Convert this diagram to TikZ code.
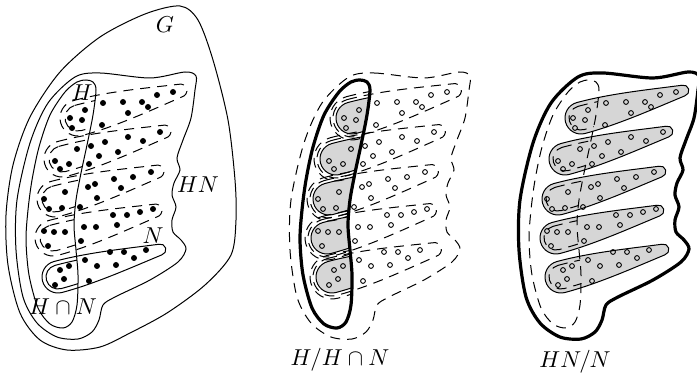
\documentclass[tikz,border=0pt]{standalone}
\usetikzlibrary{calc}
\definecolor{CosetClr}{gray}{0.84}

\tikzset{
  thinln/.style={line width=0.5pt},
  thickln/.style={line width=1.6pt},
  dashln/.style={line width=0.5pt,dash pattern=on 5pt off 3.5pt},
  eltfill/.style={fill=black},
  eltopen/.style={draw=black,line width=0.45pt},
  lbl/.style={scale=1.15},
}

\def\Gpath{plot[smooth cycle] coordinates {(180,6) (198,20) (213,60) (228,120) (235,180) (236,220) (231,255) (205,285) (167,313) (130,333) (100,347) (67,350) (40,340) (20,313) (8,265) (6,215) (13,165) (30,117) (60,72) (100,37) (145,14)}}
\def\HNpath{plot[smooth cycle] coordinates {(75,77) (100,73) (150,78) (185,72) (196,76) (195,90) (191,118) (183,140) (177,158) (180,170) (174,183) (172,195) (176,207) (172,220) (173,232) (181,240) (186,249) (178,262) (150,280) (115,297) (103,305) (99,320) (92,332) (78,339) (57,337) (37,323) (23,297) (16,250) (17,200) (30,143) (48,103)}}
\def\Hpath{plot[smooth cycle] coordinates {(86,80) (93,82) (96,90) (93,115) (87,145) (81,173) (76,200) (74,225) (76,250) (78,275) (77,305) (72,322) (63,328) (50,324) (38,308) (29,275) (26,240) (28,210) (32,180) (39,147) (50,115) (65,92) (77,82)}}

\def\RowsUp{(78,118),(62,159),(55,199),(53,238)}
\def\RowsAll{(78,118),(62,159),(55,199),(53,238),(58,277)}
\def\EltList{(85,110),(103,103),(123,102),(142,102),(148,107),(157,95),(173,92),(128,113),(70,118),(82,120),(72,128),(102,125),
(77,149),(91,146),(105,142),(128,137),(143,141),(160,132),(55,161),(69,164),(60,169),(89,164),(99,156),(118,152),
(65,192),(88,187),(95,184),(114,179),(133,177),(151,172),(44,199),(49,209),(62,208),(80,207),(97,198),(121,188),
(44,231),(54,232),(65,232),(48,246),(84,227),(96,227),(81,241),(117,225),(113,215),(127,215),(140,212),(153,209),
(60,270),(69,266),(64,279),(55,285),(85,260),(97,266),(89,281),(110,252),(124,252),(134,258),(146,250),(116,265)}

% one coset of N: #1 style, #2 centre of its round end, #3 extra width
\newcommand{\CosetShape}[3]{%
  \pgfmathsetmacro\CosR{16+#3}%
  \pgfmathsetmacro\CosT{5.5+#3/2}%
  \pgfmathsetmacro\CosM{10+#3*0.75}%
  \path[#1,shift={#2},rotate=15] (0,-\CosR) .. controls (35,-\CosR) and (72,-\CosM) .. (106,-\CosT)
    arc[start angle=-90,end angle=90,radius=\CosT]
    .. controls (72,\CosM) and (35,\CosR) .. (0,\CosR)
    arc[start angle=90,end angle=270,radius=\CosR] -- cycle;}

\begin{document}
\begin{tikzpicture}[x=0.5pt,y=-0.5pt]
\useasboundingbox (0,0) rectangle (697,374);

% G, HN, H
\draw[thinln] \Gpath;
\draw[thinln] \HNpath;
\draw[thinln] \Hpath;

\foreach \c in \RowsUp {\CosetShape{draw,dashln}{\c}{2}}
\CosetShape{draw,thinln}{(58,277)}{0}
\begin{scope}
  \clip \Hpath;
  \foreach \c in \RowsUp {\CosetShape{draw,dashln}{\c}{-3}}
  \CosetShape{draw,thinln}{(58,277)}{-4}
\end{scope}

\foreach \p in \EltList {\fill[eltfill] \p circle (3);}

\node[lbl] (lblG) at (165,25) {$G$};
\node[lbl] (lblH) at (82,93) {$H$};
\node[lbl] (lblHN) at (198,185) {$HN$};
\node[lbl] (lblN) at (153,236) {$N$};
\node[lbl] (lblHcapN) at (63,307) {$H\cap N$};

% H/H cap N
\begin{scope}[shift={(274,0)}]
\draw[dashln] \HNpath;
\begin{scope}
  \clip \Hpath;
  \foreach \c in \RowsAll {\CosetShape{draw,thinln,fill=CosetClr}{\c}{0}}
  \foreach \c in \RowsAll {\CosetShape{draw,dashln}{\c}{6}}
\end{scope}
\foreach \c in \RowsAll {\CosetShape{draw,dashln}{\c}{3}}
\draw[thickln] \Hpath;
\foreach \p in \EltList {\draw[eltopen] \p circle (2.4);}
\node[lbl] (lblQuoH) at (66,360) {$H/H\cap N$};
\end{scope}

% HN/N
\begin{scope}[shift={(503,0)}]
\draw[thickln] \HNpath;
\foreach \c in \RowsAll {\CosetShape{draw,thinln,fill=CosetClr}{\c}{0}}
\draw[dashln] \Hpath;
\begin{scope}
  \clip \Hpath;
  \foreach \c in \RowsAll {\CosetShape{draw,dashln}{\c}{-4}}
\end{scope}
\foreach \p in \EltList {\draw[eltopen] \p circle (2.4);}
\node[lbl] (lblQuoHN) at (72,362) {$HN/N$};
\end{scope}

\end{tikzpicture}
\end{document}
